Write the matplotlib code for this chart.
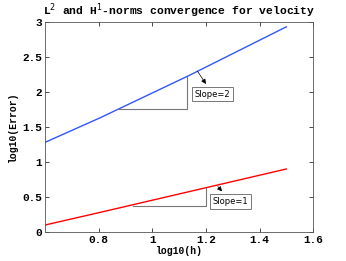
import numpy as np
import matplotlib
matplotlib.use("Agg")
import matplotlib.pyplot as plt

# values
h_blue = [0.6, 0.805, 1.14, 1.5]
err_blue = [1.28, 1.63, 2.24, 2.93]
h_red = [0.6, 0.805, 1.5]
err_red = [0.10, 0.28, 0.90]

# slope triangles (x0, x1, ybase, ytop)
tri_blue = (0.872, 1.13, 1.757, 2.21)
tri_red = (0.928, 1.20, 0.376, 0.63)

xticks = [0.8, 1.0, 1.2, 1.4, 1.6]
xticklabels = ['0.8', '1', '1.2', '1.4', '1.6']
yticks = [0, 0.5, 1, 1.5, 2, 2.5, 3]
yticklabels = ['0', '0.5', '1', '1.5', '2', '2.5', '3']

mono = 'Liberation Mono'

fig = plt.figure(figsize=(3.46, 2.61), dpi=100)
ax = fig.add_axes([0.130, 0.111, 0.775, 0.805])

ax.plot(h_blue, err_blue, color='#3355ff', linewidth=1.0)
ax.plot(h_red, err_red, color='red', linewidth=1.0)

for (x0, x1, yb, yt) in [tri_blue, tri_red]:
    ax.plot([x0, x1, x1], [yb, yb, yt], color='#777777', linewidth=0.8)

ax.annotate('Slope=2', xy=(1.163, 2.33), xytext=(1.225, 1.97),
            fontsize=6, ha='center', va='center',
            bbox=dict(boxstyle='square,pad=0.35', fc='white', ec='#777777', lw=0.7),
            arrowprops=dict(arrowstyle='<|-', color='black', lw=0.5, mutation_scale=7))
ax.annotate('Slope=1', xy=(1.238, 0.68), xytext=(1.292, 0.44),
            fontsize=6, ha='center', va='center',
            bbox=dict(boxstyle='square,pad=0.35', fc='white', ec='#777777', lw=0.7),
            arrowprops=dict(arrowstyle='<|-', color='black', lw=0.5, mutation_scale=7))

ax.set_xlim(0.6, 1.6)
ax.set_ylim(0, 3)
ax.set_xticks(xticks)
ax.set_xticklabels(xticklabels, fontfamily=mono, fontweight='bold', fontsize=8)
ax.set_yticks(yticks)
ax.set_yticklabels(yticklabels, fontfamily=mono, fontweight='bold', fontsize=8)
ax.tick_params(direction='in', top=True, right=True, length=3, width=0.5, pad=2)
for s in ax.spines.values():
    s.set_linewidth(0.6)
    s.set_color('#555555')

ax.set_xlabel('log10(h)', fontfamily=mono, fontweight='bold', fontsize=7, labelpad=1)
ax.set_ylabel('log10(Error)', fontfamily=mono, fontweight='bold', fontsize=7, labelpad=3)
ax.set_title('L$^2$ and H$^1$-norms convergence for velocity', fontfamily=mono,
             fontweight='bold', fontsize=8.2, pad=5)

fig.savefig('out.png', dpi=100)
